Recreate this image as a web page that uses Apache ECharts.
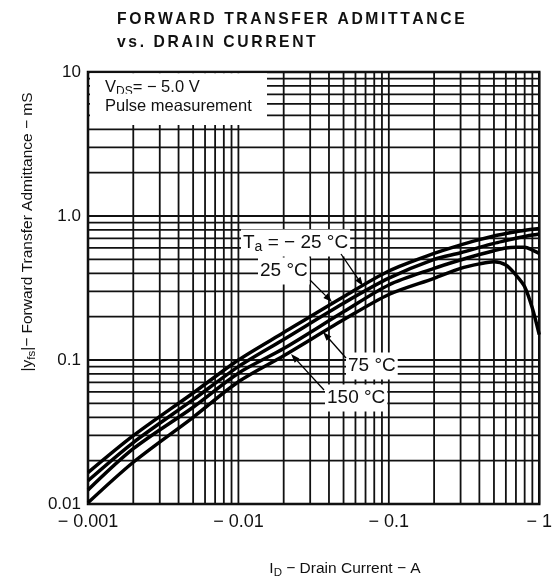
<!DOCTYPE html>
<html>
<head>
<meta charset="utf-8">
<script src="https://cdn.jsdelivr.net/npm/echarts@6/dist/echarts.min.js"></script>
<style>
html, body { margin: 0; padding: 0; background: #fff; }
#chart { width: 555px; height: 581px; }
</style>
</head>
<body>
<div id="chart"></div>
<script>
// drain current, A (drawn as negative on the axis labels)
const drainCurrent = [0.001, 0.002, 0.005, 0.01, 0.02, 0.05, 0.1, 0.2, 0.3, 0.4, 0.5, 0.6, 0.7, 0.8, 0.9, 1.0]
// |yfs| in mS, one array per ambient temperature
const yfsMinus25 = [0.0165, 0.0298, 0.059, 0.1, 0.155, 0.275, 0.415, 0.55, 0.63, 0.685, 0.726, 0.755, 0.778, 0.795, 0.81, 0.82]
const yfs25 = [0.0145, 0.0267, 0.053, 0.09, 0.139, 0.248, 0.37, 0.5, 0.556, 0.605, 0.646, 0.675, 0.7, 0.72, 0.737, 0.75]
const yfs75 = [0.0125, 0.0242, 0.047, 0.081, 0.12, 0.216, 0.332, 0.433, 0.495, 0.54, 0.574, 0.6, 0.607, 0.607, 0.58, 0.55]
const yfs150 = [0.0102, 0.0195, 0.04, 0.0706, 0.107, 0.19, 0.285, 0.369, 0.433, 0.465, 0.482, 0.457, 0.389, 0.323, 0.229, 0.15]

const xTickLabels = ['− 0.001', '− 0.01', '− 0.1', '− 1']
const yTickLabels = ['0.01', '0.1', '1.0', '10']

const xMin = 0.001
const xMax = 1
const yMin = 0.01
const yMax = 10

// log grid paper
const gridMantissa = [1, 2, 3, 4, 5, 6, 7, 8, 9]
const xDecades = [0.001, 0.01, 0.1]
const yDecades = [0.01, 0.1, 1]

const FONT = '"Liberation Sans", Arial, sans-serif'

const xGrid = xDecades.flatMap(d => gridMantissa.map(m => +(m * d).toPrecision(3))).concat([xMax])
const yGrid = yDecades.flatMap(d => gridMantissa.map(m => +(m * d).toPrecision(3))).concat([yMax])

function toPairs(values) {
  return drainCurrent.map((x, i) => [x, values[i]])
}

function spaced(str) {
  return str.split('').join('\u2006')
}

function curve(name, values) {
  return {
    name: name,
    type: 'line',
    data: toPairs(values),
    smooth: 0.3,
    showSymbol: false,
    symbol: 'none',
    z: 5,
    lineStyle: { color: '#000', width: 3.5 }
  }
}

function gridLines(name, data, vertical) {
  return {
    name: name,
    type: 'custom',
    silent: true,
    z: 1,
    clip: false,
    data: data,
    renderItem: (params, api) => {
      const v = api.value(vertical ? 0 : 1)
      const p1 = vertical ? api.coord([v, yMin]) : api.coord([xMin, v])
      const p2 = vertical ? api.coord([v, yMax]) : api.coord([xMax, v])
      return {
        type: 'line',
        shape: { x1: p1[0], y1: p1[1], x2: p2[0], y2: p2[1] },
        style: { stroke: '#111', lineWidth: 1.8 }
      }
    }
  }
}

function arrow(x1, y1, x2, y2) {
  const a = Math.atan2(y2 - y1, x2 - x1)
  const len = 9
  const half = 3.2
  const bx = x2 - len * Math.cos(a)
  const by = y2 - len * Math.sin(a)
  return [{
    type: 'line',
    z: 100,
    shape: { x1: x1, y1: y1, x2: bx, y2: by },
    style: { stroke: '#000', lineWidth: 1.3 }
  }, {
    type: 'polygon',
    z: 100,
    shape: {
      points: [
        [x2, y2],
        [bx + half * Math.sin(a), by - half * Math.cos(a)],
        [bx - half * Math.sin(a), by + half * Math.cos(a)]
      ]
    },
    style: { fill: '#000' }
  }]
}

function label(text, x, y, size) {
  return {
    type: 'text',
    z: 100,
    x: x,
    y: y,
    style: {
      text: text,
      fill: '#111',
      font: size + 'px ' + FONT,
      verticalAlign: 'middle',
      backgroundColor: '#fff',
      padding: [2, 2, 2, 2],
      rich: {
        n: { fontSize: size, fontFamily: FONT, lineHeight: size + 4, verticalAlign: 'middle' },
        sub: { fontSize: Math.round(size * 0.72), fontFamily: FONT, lineHeight: size + 4, verticalAlign: 'bottom' }
      }
    }
  }
}

const chart = echarts.init(document.getElementById('chart'))

chart.setOption({
  animation: false,
  backgroundColor: '#fff',
  grid: {
    left: 88,
    right: 13,
    top: 72,
    bottom: 77,
    show: true,
    borderColor: '#000',
    borderWidth: 2.5
  },
  xAxis: {
    type: 'log',
    logBase: 10,
    min: xMin,
    max: xMax,
    axisLine: { show: false },
    axisTick: { show: false },
    splitLine: { show: false },
    axisLabel: {
      margin: 9,
      color: '#111',
      fontSize: 18,
      fontFamily: FONT,
      formatter: v => xTickLabels[Math.round(Math.log10(v)) + 3]
    }
  },
  yAxis: {
    type: 'log',
    logBase: 10,
    min: yMin,
    max: yMax,
    axisLine: { show: false },
    axisTick: { show: false },
    splitLine: { show: false },
    axisLabel: {
      margin: 7,
      color: '#111',
      fontSize: 17,
      fontFamily: FONT,
      formatter: v => yTickLabels[Math.round(Math.log10(v)) + 2]
    }
  },
  series: [
    gridLines('xgrid', xGrid.map(v => [v, yMin]), true),
    gridLines('ygrid', yGrid.map(v => [xMin, v]), false),
    curve('-25 °C', yfsMinus25),
    curve('25 °C', yfs25),
    curve('75 °C', yfs75),
    curve('150 °C', yfs150)
  ],
  graphic: [
    // title
    {
      type: 'text', x: 117, y: 20, z: 100,
      style: { text: spaced('FORWARD TRANSFER ADMITTANCE'), font: 'bold 15.7px ' + FONT, fill: '#111', verticalAlign: 'middle' }
    },
    {
      type: 'text', x: 117, y: 43, z: 100,
      style: { text: spaced('vs. DRAIN CURRENT'), font: 'bold 15.7px ' + FONT, fill: '#111', verticalAlign: 'middle' }
    },
    // condition box
    {
      type: 'rect', z: 90,
      shape: { x: 90, y: 73.3, width: 177, height: 51.7 },
      style: { fill: '#fff' }
    },
    label('{n|V}{sub|DS}{n|= − 5.0 V}', 103, 87, 16.5),
    label('{n|Pulse measurement}', 103, 106, 16.5),
    // curve labels
    label('{n|T}{sub|a}{n| = − 25 °C}', 241, 243, 19),
    label('{n|25 °C}', 258, 271, 19),
    label('{n|75 °C}', 346, 366, 19),
    label('{n|150 °C}', 325, 398, 19),
    ...arrow(341, 254, 363, 286),
    ...arrow(310, 280, 332, 302),
    ...arrow(346, 358, 323, 332),
    ...arrow(324, 390, 291, 354),
    // axis names
    {
      type: 'text', x: 28, y: 232, z: 100, rotation: Math.PI / 2,
      style: {
        text: '{n||y}{sub|fs}{n||− Forward Transfer Admittance − mS}',
        fill: '#111',
        align: 'center',
        verticalAlign: 'middle',
        rich: {
          n: { fontSize: 15.5, fontFamily: FONT, lineHeight: 20, verticalAlign: 'middle' },
          sub: { fontSize: 11.5, fontFamily: FONT, lineHeight: 20, verticalAlign: 'bottom' }
        }
      }
    },
    {
      type: 'text', x: 345, y: 569, z: 100,
      style: {
        text: '{n|I}{sub|D}{n| − Drain Current − A}',
        fill: '#111',
        align: 'center',
        verticalAlign: 'middle',
        rich: {
          n: { fontSize: 15.5, fontFamily: FONT, lineHeight: 20, verticalAlign: 'middle' },
          sub: { fontSize: 11.5, fontFamily: FONT, lineHeight: 20, verticalAlign: 'bottom' }
        }
      }
    }
  ]
})
</script>
</body>
</html>
